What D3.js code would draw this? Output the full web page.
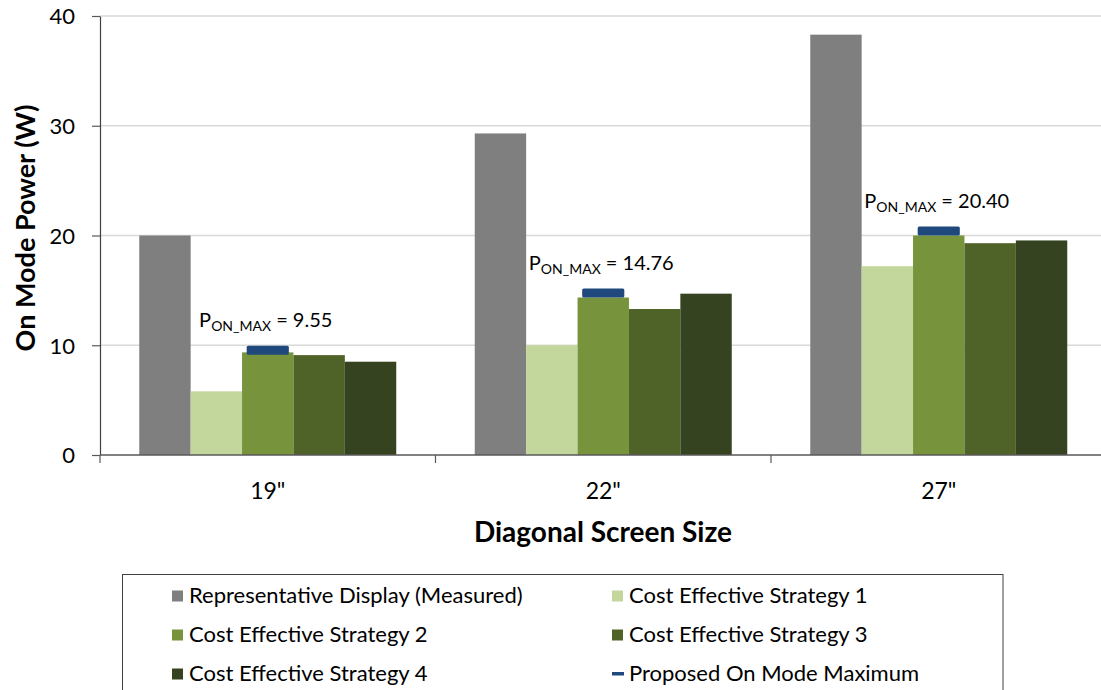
<!DOCTYPE html>
<html>
<head>
<meta charset="utf-8">
<script src="https://cdn.jsdelivr.net/npm/d3@7"></script>
<style>
  html, body { margin: 0; padding: 0; background: #fff; }
  svg { display: block; font-family: Lato, "Open Sans", sans-serif; }
</style>
</head>
<body>
<svg id="chart" width="1101" height="690"></svg>
<script>
// Screen sizes on the category axis
const categories = ['19"', '22"', '27"'];

// Bar series (on mode power, W)
const seriesNames = [
  "Representative Display (Measured)",
  "Cost Effective Strategy 1",
  "Cost Effective Strategy 2",
  "Cost Effective Strategy 3",
  "Cost Effective Strategy 4"
];
const measured   = [20.0, 29.3, 38.3];
const strategy1  = [5.8, 10.0, 17.2];
const strategy2  = [9.35, 14.35, 20.0];
const strategy3  = [9.1, 13.3, 19.3];
const strategy4  = [8.5, 14.7, 19.55];

// Proposed on mode maximum per screen size
const proposedMax = [9.55, 14.76, 20.40];
const proposedName = "Proposed On Mode Maximum";

const yTicks = [0, 10, 20, 30, 40];
const seriesColors = ["#7f7f7f", "#c3d69b", "#77933c", "#4f6228", "#364320"];
const markerColor = "#1f497d";

const seriesValues = [measured, strategy1, strategy2, strategy3, strategy4];

const svg = d3.select("#chart");

const plot = { left: 100, top: 16, bottom: 455, step: 335.5 };

const y = d3.scaleLinear().domain([0, 40]).range([plot.bottom, plot.top]);

const x0 = d3.scaleBand()
  .domain(categories)
  .range([plot.left, plot.left + plot.step * categories.length])
  .paddingInner(0.234)
  .paddingOuter(0.117);

const x1 = d3.scaleBand()
  .domain(seriesNames)
  .range([0, x0.bandwidth()])
  .padding(0);

// Horizontal gridlines
svg.append("g")
  .selectAll("line")
  .data(yTicks.filter(d => d > 0))
  .join("line")
  .attr("x1", plot.left)
  .attr("x2", 1101)
  .attr("y1", d => y(d))
  .attr("y2", d => y(d))
  .attr("stroke", "#d9d9d9")
  .attr("stroke-width", 1.5);

// Bars
const groups = svg.append("g")
  .selectAll("g")
  .data(categories)
  .join("g")
  .attr("transform", c => `translate(${x0(c)},0)`);

groups.selectAll("rect")
  .data((c, ci) => seriesNames.map((s, si) => ({ s, si, v: seriesValues[si][ci] })))
  .join("rect")
  .attr("x", d => x1(d.s))
  .attr("width", x1.bandwidth())
  .attr("y", d => y(d.v))
  .attr("height", d => y(0) - y(d.v))
  .attr("fill", d => seriesColors[d.si]);

// Proposed maximum markers, centred on the Strategy 2 bar
const markerW = x1.bandwidth() * 0.82;
const markerH = 9;
const markerX = c => x0(c) + x1(seriesNames[2]) + x1.bandwidth() / 2;

svg.append("g")
  .selectAll("rect")
  .data(categories.map((c, i) => ({ c, v: proposedMax[i] })))
  .join("rect")
  .attr("x", d => markerX(d.c) - markerW / 2)
  .attr("y", d => y(d.v) - markerH / 2)
  .attr("width", markerW)
  .attr("height", markerH)
  .attr("rx", 1.5)
  .attr("fill", markerColor);

// P_ON_MAX labels
const ann = svg.append("g")
  .selectAll("text")
  .data(categories.map((c, i) => ({ c, v: proposedMax[i] })))
  .join("text")
  .attr("x", d => markerX(d.c) - 2)
  .attr("y", d => y(d.v) - 23)
  .attr("text-anchor", "middle")
  .attr("font-size", 20)
  .attr("fill", "#000");
ann.append("tspan").text("P");
ann.append("tspan").attr("font-size", 14).attr("dy", 4).text("ON_MAX");
ann.append("tspan").attr("dy", -4).text(d => " = " + d.v.toFixed(2));

// Y axis
const yAxis = svg.append("g")
  .attr("transform", `translate(${plot.left},0)`)
  .call(d3.axisLeft(y).tickValues(yTicks).tickSize(8).tickSizeOuter(0).tickPadding(17));
yAxis.select(".domain").attr("stroke", "#404040").attr("stroke-width", 1.2);
yAxis.selectAll(".tick line").attr("stroke", "#595959").attr("stroke-width", 1.2);
yAxis.selectAll(".tick text")
  .attr("font-family", "Lato, sans-serif")
  .attr("font-size", 22)
  .attr("fill", "#000")
  .attr("dy", "0.36em");

// X axis: line, category boundary ticks and labels
const xAxis = svg.append("g")
  .attr("transform", `translate(0,${plot.bottom})`)
  .call(d3.axisBottom(x0).tickSize(0).tickSizeOuter(0).tickPadding(0));
xAxis.select(".domain").remove();
xAxis.insert("line", ":first-child")
  .attr("x1", plot.left).attr("x2", 1101)
  .attr("y1", 0).attr("y2", 0)
  .attr("stroke", "#595959").attr("stroke-width", 1.5);
xAxis.selectAll(".tick text")
  .attr("font-family", "Lato, sans-serif")
  .attr("font-size", 23)
  .attr("fill", "#000")
  .attr("y", 44)
  .attr("dy", 0);
xAxis.append("g")
  .selectAll("line")
  .data(d3.range(categories.length + 1))
  .join("line")
  .attr("x1", i => x0.range()[0] + i * x0.step())
  .attr("x2", i => x0.range()[0] + i * x0.step())
  .attr("y1", 0)
  .attr("y2", 8)
  .attr("stroke", "#595959")
  .attr("stroke-width", 1.2);

// Axis titles
svg.append("text")
  .attr("x", 603)
  .attr("y", 542)
  .attr("text-anchor", "middle")
  .attr("font-size", 28)
  .attr("font-weight", "bold")
  .attr("fill", "#000")
  .text("Diagonal Screen Size");

svg.append("text")
  .attr("transform", "translate(35,228) rotate(-90)")
  .attr("text-anchor", "middle")
  .attr("font-size", 27)
  .attr("font-weight", "bold")
  .attr("fill", "#000")
  .text("On Mode Power (W)");

// Legend
const legend = svg.append("g");
legend.append("rect")
  .attr("x", 122.5).attr("y", 574.5)
  .attr("width", 880.5).attr("height", 130)
  .attr("fill", "#fff")
  .attr("stroke", "#404040")
  .attr("stroke-width", 1);

const legendItems = seriesNames.map((name, i) => ({ name, color: seriesColors[i], type: "bar" }))
  .concat([{ name: proposedName, color: markerColor, type: "marker" }]);

const colX = [172, 612];
const rowY = [596, 635, 674];

const li = legend.selectAll("g.item")
  .data(legendItems)
  .join("g")
  .attr("class", "item")
  .attr("transform", (d, i) => `translate(${colX[i % 2]},${rowY[Math.floor(i / 2)]})`);

li.filter(d => d.type === "bar").append("rect")
  .attr("x", 0).attr("y", -5.5)
  .attr("width", 11).attr("height", 11)
  .attr("fill", d => d.color);
li.filter(d => d.type === "marker").append("rect")
  .attr("x", 0).attr("y", -2)
  .attr("width", 12).attr("height", 3.5)
  .attr("fill", d => d.color);

li.append("text")
  .attr("x", 17)
  .attr("y", 0)
  .attr("dy", "0.34em")
  .attr("font-size", 22)
  .attr("fill", "#000")
  .text(d => d.name);
</script>
</body>
</html>
